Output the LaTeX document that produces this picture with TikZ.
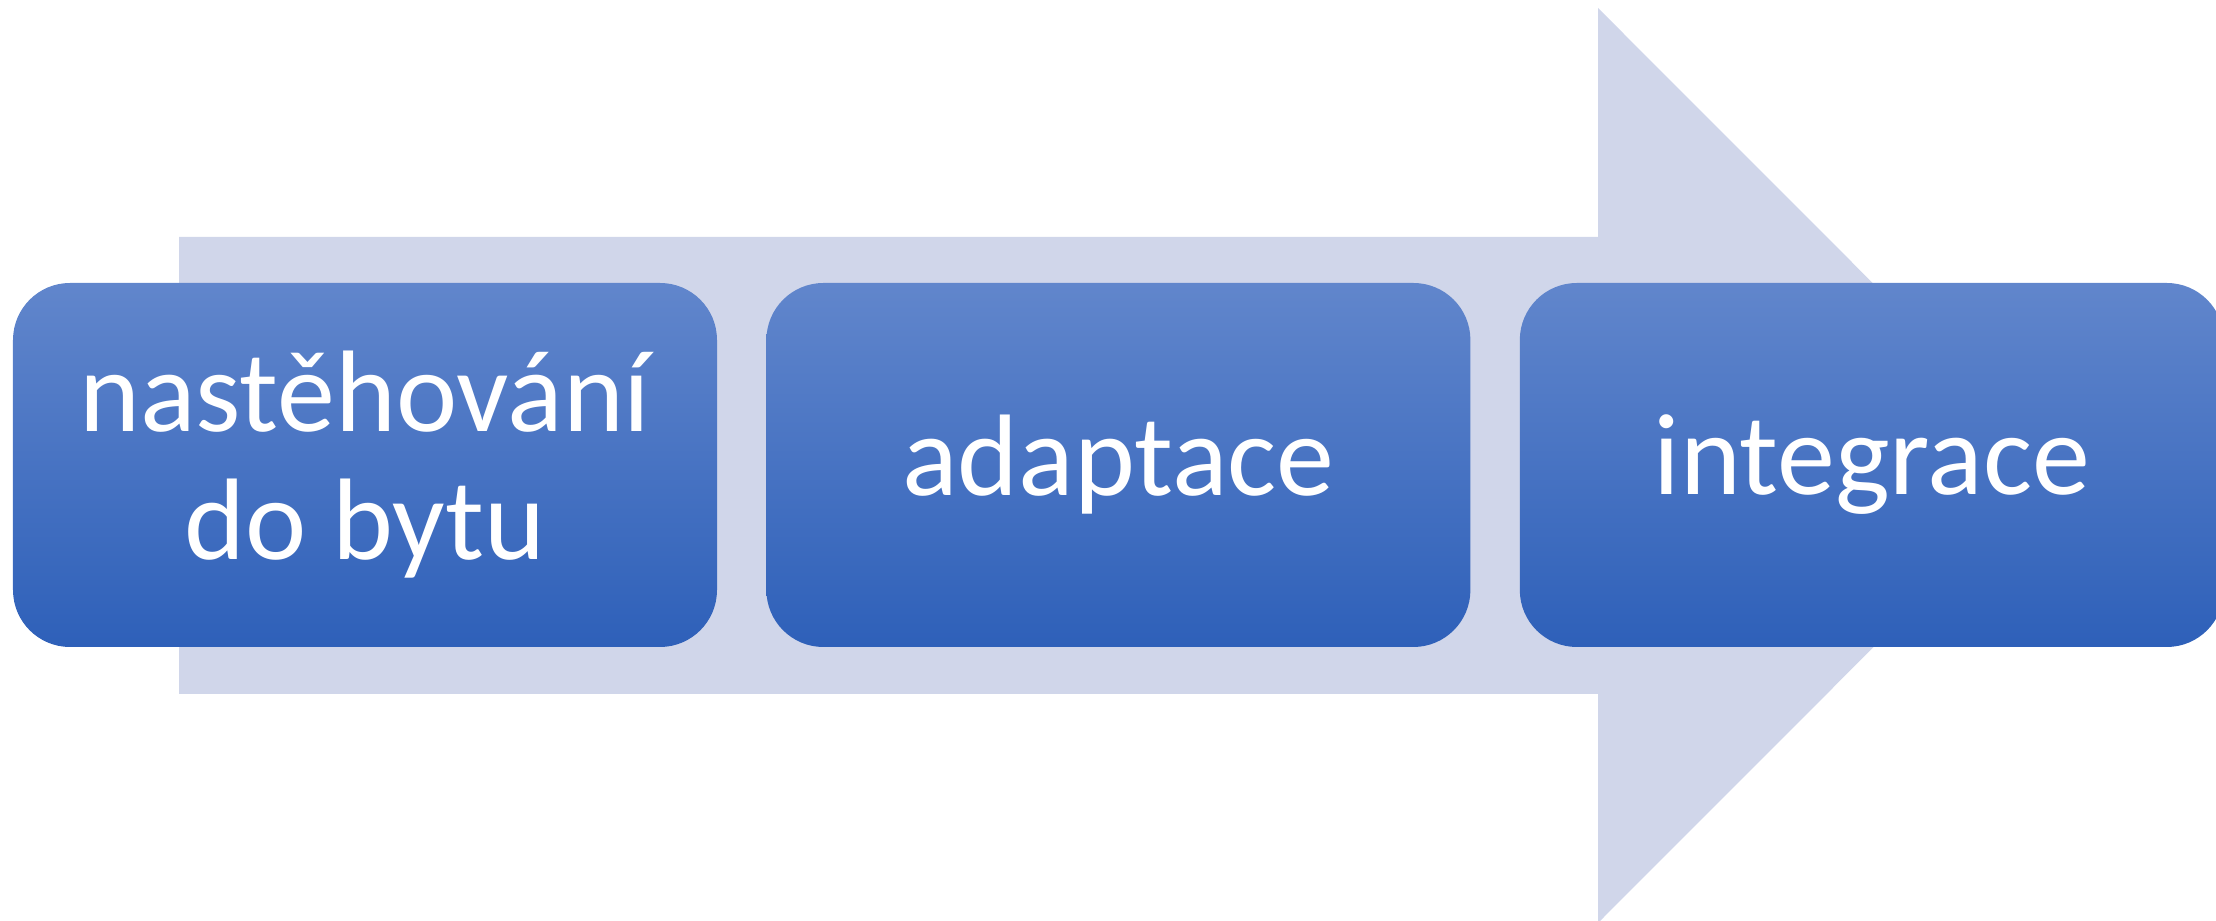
\documentclass[tikz,border=0pt]{standalone}
\usepackage{fontspec}
\setmainfont{Carlito}
\usetikzlibrary{positioning}
\definecolor{arrowfill}{RGB}{208,214,234}
\definecolor{stagetop}{RGB}{97,134,204}
\definecolor{stagebottom}{RGB}{46,96,185}

\begin{document}
\begin{tikzpicture}[
	stage/.style={rounded corners=0.57cm, top color=stagetop, bottom color=stagebottom,
		minimum width=7.04cm, minimum height=3.64cm, inner sep=0pt,
		text=white, align=center, font=\fontsize{33}{36.4}\selectfont,
		execute at begin node=\vspace*{0.16cm}}]
	\useasboundingbox (0,0) rectangle (22.16,9.21);
	%% background arrow
	\fill[arrowfill] (1.79,2.27) -- (1.79,6.84) -- (15.98,6.84) -- (15.98,9.13)
		-- (20.55,4.555) -- (15.98,-0.02) -- (15.98,2.27) -- cycle;
	%% stages
	\node[stage] (move) at (3.65,4.56) {nastěhování\\do bytu};
	\node[stage, right=0.48cm of move] (adapt) {adaptace};
	\node[stage, right=0.48cm of adapt] (integr) {integrace};
\end{tikzpicture}
\end{document}
